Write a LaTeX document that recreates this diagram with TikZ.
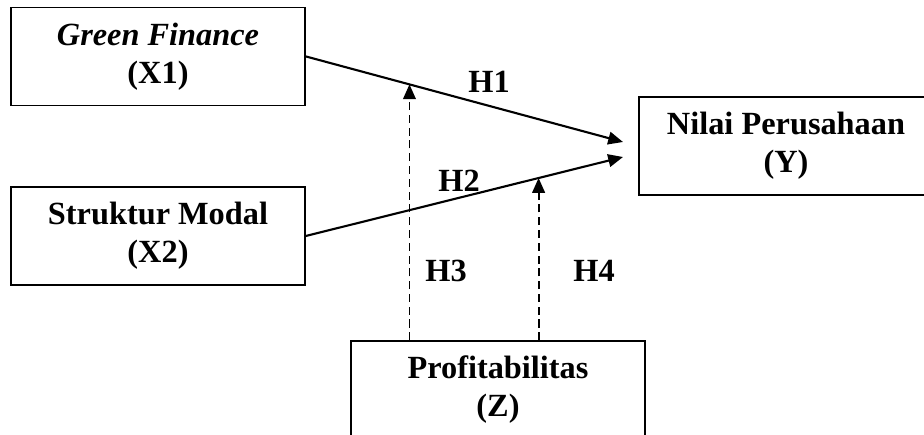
\documentclass[tikz,border=0pt]{standalone}
\usepackage{fontspec}
\setmainfont{Liberation Serif}
\usetikzlibrary{arrows.meta, positioning}
\tikzset{>={Triangle[length=10.5pt, width=9pt]}, % filled arrow heads
var/.style={draw, line width=1pt, minimum width=7.35cm, minimum height=2.45cm, align=center}, % variable boxes
every node/.style={font=\fontsize{23}{27}\selectfont\bfseries}, % bold serif text
path/.style={->, line width=1.5pt}, % direct effect
moderate/.style={->, line width=1.3pt, dash pattern=on 5.7pt off 3.4pt}, % moderating effect
}

\begin{document}
\begin{tikzpicture}
    \useasboundingbox (0,0) rectangle (23.1,10.85);
    \node[var] (x1) at (3.95,9.44) {\textit{Green Finance}\\(X1)};
    \node[var] (x2) at (3.95,4.95) {Struktur Modal\\(X2)};
    \node[var] (y) at (19.65,7.2) {Nilai Perusahaan\\(Y)};
    \node[var] (z) at (12.45,1.1) {Profitabilitas\\(Z)};
    \coordinate (y1) at (15.575,7.3);
    \coordinate (y2) at (15.575,6.925);
    \draw[path] (x1.east) -- coordinate[pos=0.327] (m1) (y1);
    \draw[path] (x2.east) -- coordinate[pos=0.734] (m2) (y2);
    \draw[moderate] (m1 |- z.north) -- (m1);
    \draw[moderate] (m2 |- z.north) -- (m2);
    \node (h1) at (12.225,8.81) {H1};
    \node (h2) at (11.475,6.325) {H2};
    \node (h3) at (11.15,4.075) {H3};
    \node (h4) at (14.85,4.075) {H4};
  \end{tikzpicture}
\end{document}
